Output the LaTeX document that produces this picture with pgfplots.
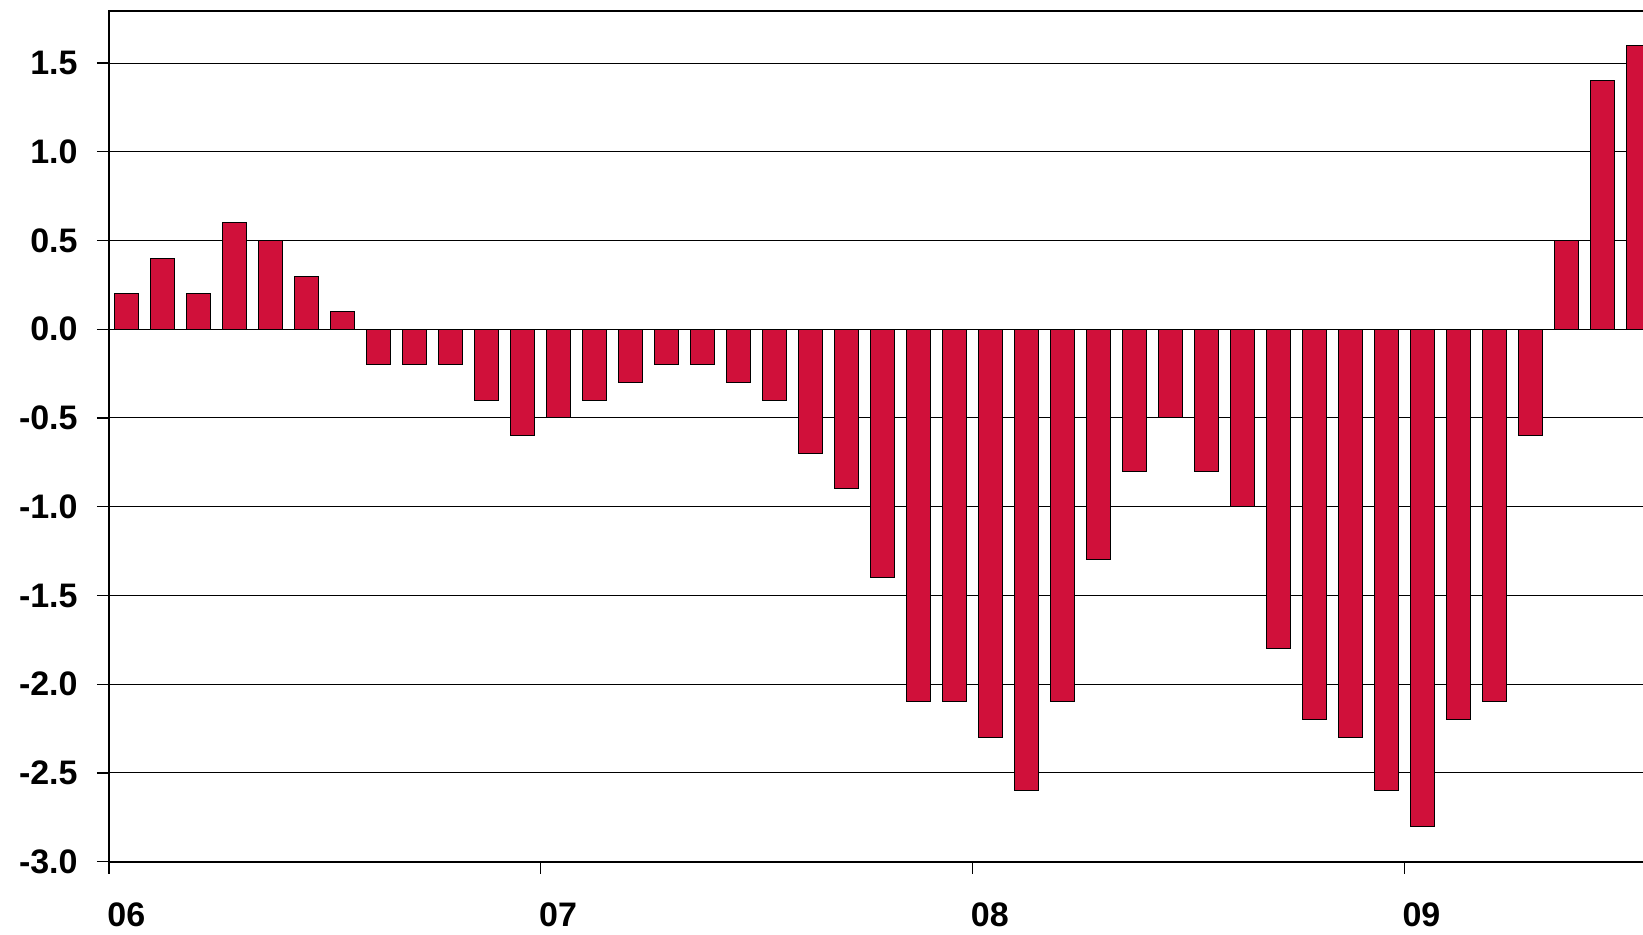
\documentclass[border=0pt]{standalone}
\usepackage{pgfplots}
\pgfplotsset{compat=1.18}
\usepackage{fontspec}
\setmainfont{Liberation Sans}
\definecolor{barred}{RGB}{208,16,58}

\begin{document}
\begin{tikzpicture}
\begin{axis}[
  scale only axis,
  width=769pt, height=425.5pt,
  xmin=0, xmax=42.75,
  ymin=-3, ymax=1.795,
  ytick={-3,-2.5,-2,-1.5,-1,-0.5,0,0.5,1,1.5},
  xtick={0,12,24,36},
  xticklabels={06,07,08,09},
  tick align=outside,
  major tick length=6pt,
  tick style={black, line width=0.6pt},
  xtick pos=left, ytick pos=left,
  ymajorgrids,
  grid style={black, line width=0.5pt},
  axis line style={black, line width=1pt},
  /pgf/number format/assume math mode=true,
  yticklabel style={font=\fontsize{17}{20}\selectfont\bfseries,
    /pgf/number format/fixed, /pgf/number format/fixed zerofill, /pgf/number format/precision=1,
    anchor=east, inner sep=0pt, xshift=-9.5pt},
  xticklabel style={font=\fontsize{17}{20}\selectfont\bfseries,
    anchor=north west, inner sep=0pt, xshift=-1pt, yshift=-14.5pt},
]
\addplot[ybar, bar width=0.667, fill=barred, draw=black, line width=0.5pt] coordinates {
(0.5,0.2) (1.5,0.4) (2.5,0.2) (3.5,0.6) (4.5,0.5) (5.5,0.3) (6.5,0.1)
(7.5,-0.2) (8.5,-0.2) (9.5,-0.2) (10.5,-0.4) (11.5,-0.6)
(12.5,-0.5) (13.5,-0.4) (14.5,-0.3) (15.5,-0.2) (16.5,-0.2) (17.5,-0.3)
(18.5,-0.4) (19.5,-0.7) (20.5,-0.9) (21.5,-1.4) (22.5,-2.1) (23.5,-2.1)
(24.5,-2.3) (25.5,-2.6) (26.5,-2.1) (27.5,-1.3) (28.5,-0.8) (29.5,-0.5)
(30.5,-0.8) (31.5,-1.0) (32.5,-1.8) (33.5,-2.2) (34.5,-2.3) (35.5,-2.6)
(36.5,-2.8) (37.5,-2.2) (38.5,-2.1) (39.5,-0.6) (40.5,0.5) (41.5,1.4)
(42.5,1.6)
};
\end{axis}
\pgfresetboundingbox
\path (-54.5pt,-36.65pt) rectangle (767pt,430.85pt);
\end{tikzpicture}
\end{document}
